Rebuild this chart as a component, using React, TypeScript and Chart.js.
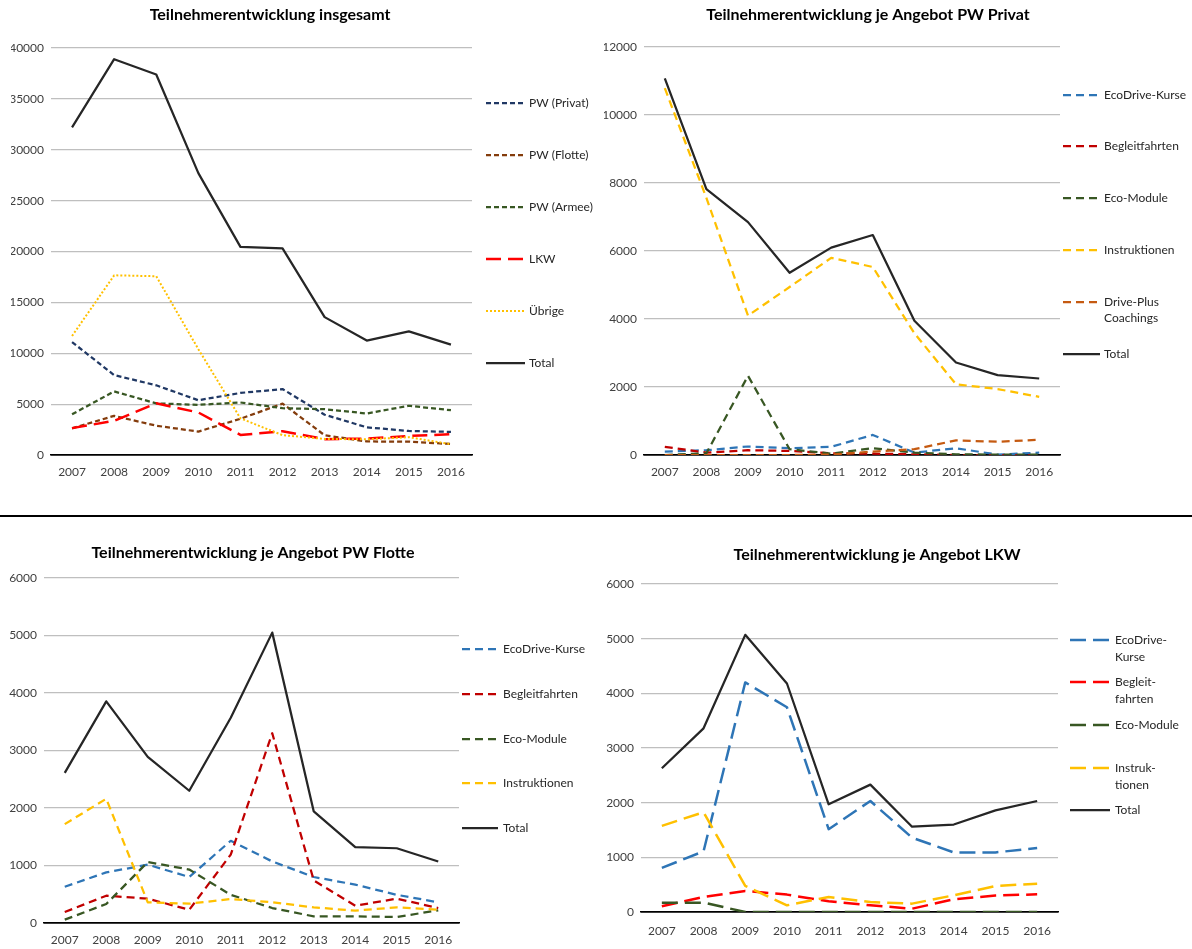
import React, { useEffect, useRef } from "react";
import { Chart, registerables } from "chart.js";

Chart.register(...registerables);

// ---------- DATA ----------
const years = ["2007", "2008", "2009", "2010", "2011", "2012", "2013", "2014", "2015", "2016"];

// Panel 1: Teilnehmerentwicklung insgesamt
const p1Privat = [11100, 7850, 6850, 5380, 6100, 6480, 3960, 2720, 2360, 2270];
const p1Flotte = [2620, 3850, 2880, 2300, 3560, 5050, 1940, 1330, 1310, 1080];
const p1Armee = [4000, 6250, 5070, 4930, 5160, 4600, 4500, 4080, 4840, 4400];
const p1Lkw = [2640, 3360, 5080, 4180, 1970, 2340, 1560, 1610, 1870, 2040];
const p1Uebrige = [11700, 17660, 17570, 10400, 3600, 1950, 1580, 1540, 1750, 1060];
const p1Total = [32200, 38900, 37400, 27700, 20450, 20300, 13550, 11250, 12150, 10850];

// Panel 2: PW Privat
const p2Eco = [100, 140, 250, 200, 240, 590, 70, 200, 10, 70];
const p2Begleit = [240, 70, 140, 120, 50, 40, 20, 0, 0, 0];
const p2Module = [0, 50, 2330, 170, 40, 200, 70, 20, 10, 10];
const p2Instr = [10790, 7560, 4100, 4940, 5800, 5530, 3580, 2080, 1940, 1710];
const p2Plus = [0, 0, 0, 0, 10, 100, 170, 430, 390, 450];
const p2Total = [11080, 7820, 6850, 5360, 6100, 6470, 3950, 2720, 2350, 2250];

// Panel 3: PW Flotte
const p3Eco = [630, 880, 1015, 800, 1430, 1070, 800, 667, 490, 360];
const p3Begleit = [190, 475, 423, 230, 1190, 3300, 740, 300, 423, 260];
const p3Module = [58, 330, 1060, 930, 490, 260, 115, 115, 105, 220];
const p3Instr = [1720, 2160, 360, 336, 417, 360, 272, 215, 272, 232];
const p3Total = [2610, 3855, 2890, 2300, 3570, 5050, 1940, 1320, 1300, 1070];

// Panel 4: LKW
const p4Eco = [806, 1110, 4200, 3745, 1515, 2030, 1360, 1090, 1090, 1170];
const p4Begleit = [104, 275, 385, 318, 195, 122, 61, 232, 300, 324];
const p4Module = [171, 171, 0, 0, 0, 0, 0, 0, 0, 0];
const p4Instr = [1576, 1826, 476, 122, 275, 183, 153, 305, 476, 519];
const p4Total = [2630, 3360, 5070, 4180, 1970, 2330, 1560, 1600, 1860, 2030];

const titles = [
  "Teilnehmerentwicklung insgesamt",
  "Teilnehmerentwicklung je Angebot PW Privat",
  "Teilnehmerentwicklung je Angebot PW Flotte",
  "Teilnehmerentwicklung je Angebot LKW",
];

// ---------- STYLE ----------
const W = 1192;
const H = 949;
const FONT = "Lato, 'Liberation Sans', sans-serif";
const TICK_COLOR = "#404040";
const TEXT_COLOR = "#262626";
const GRID = "#BFBFBF";

type Series = { label: string; legend: string[]; data: number[]; color: string; dash: number[]; width: number };
type Spec = {
  title: string;
  titleX: number;
  titleY: number;
  plot: { left: number; top: number; right: number; bottom: number };
  yMax: number;
  yStep: number;
  xPad: number;
  series: Series[];
  legendYs: number[];
  sampleX: [number, number];
  textX: number;
  lineGap: number;
};

const C = {
  navy: "#203864",
  brown: "#843C0C",
  green: "#385723",
  red: "#FF0000",
  darkRed: "#C00000",
  gold: "#FFC000",
  blue: "#2E75B6",
  orange: "#C55A11",
  black: "#262626",
};

const shortDash = [5, 3];
const midDash = [8, 5];
const longDash = [16, 7];

const specs: Spec[] = [
  {
    title: titles[0],
    titleX: 270,
    titleY: 15,
    plot: { left: 51, top: 48, right: 472, bottom: 455 },
    yMax: 40000,
    yStep: 5000,
    xPad: 10,
    series: [
      { label: "PW (Privat)", legend: ["PW (Privat)"], data: p1Privat, color: C.navy, dash: shortDash, width: 2.25 },
      { label: "PW (Flotte)", legend: ["PW (Flotte)"], data: p1Flotte, color: C.brown, dash: shortDash, width: 2.25 },
      { label: "PW (Armee)", legend: ["PW (Armee)"], data: p1Armee, color: C.green, dash: shortDash, width: 2.25 },
      { label: "LKW", legend: ["LKW"], data: p1Lkw, color: C.red, dash: [15, 7], width: 2.5 },
      { label: "Übrige", legend: ["Übrige"], data: p1Uebrige, color: C.gold, dash: [2, 2], width: 2 },
      { label: "Total", legend: ["Total"], data: p1Total, color: C.black, dash: [], width: 2.25 },
    ],
    legendYs: [103, 155, 207, 259, 311, 363],
    sampleX: [486, 525],
    textX: 529,
    lineGap: 16,
  },
  {
    title: titles[1],
    titleX: 868,
    titleY: 15,
    plot: { left: 644, top: 47, right: 1060, bottom: 455 },
    yMax: 12000,
    yStep: 2000,
    xPad: 10,
    series: [
      { label: "EcoDrive-Kurse", legend: ["EcoDrive-Kurse"], data: p2Eco, color: C.blue, dash: midDash, width: 2.25 },
      { label: "Begleitfahrten", legend: ["Begleitfahrten"], data: p2Begleit, color: C.darkRed, dash: midDash, width: 2.25 },
      { label: "Eco-Module", legend: ["Eco-Module"], data: p2Module, color: C.green, dash: midDash, width: 2.25 },
      { label: "Instruktionen", legend: ["Instruktionen"], data: p2Instr, color: C.gold, dash: midDash, width: 2.25 },
      { label: "Drive-Plus Coachings", legend: ["Drive-Plus", "Coachings"], data: p2Plus, color: C.orange, dash: midDash, width: 2.25 },
      { label: "Total", legend: ["Total"], data: p2Total, color: C.black, dash: [], width: 2.25 },
    ],
    legendYs: [95, 146, 198, 250, 302, 354],
    sampleX: [1063, 1100],
    textX: 1104,
    lineGap: 16,
  },
  {
    title: titles[2],
    titleX: 253,
    titleY: 553,
    plot: { left: 44, top: 578, right: 459, bottom: 923 },
    yMax: 6000,
    yStep: 1000,
    xPad: 10,
    series: [
      { label: "EcoDrive-Kurse", legend: ["EcoDrive-Kurse"], data: p3Eco, color: C.blue, dash: midDash, width: 2.25 },
      { label: "Begleitfahrten", legend: ["Begleitfahrten"], data: p3Begleit, color: C.darkRed, dash: midDash, width: 2.25 },
      { label: "Eco-Module", legend: ["Eco-Module"], data: p3Module, color: C.green, dash: midDash, width: 2.25 },
      { label: "Instruktionen", legend: ["Instruktionen"], data: p3Instr, color: C.gold, dash: midDash, width: 2.25 },
      { label: "Total", legend: ["Total"], data: p3Total, color: C.black, dash: [], width: 2.25 },
    ],
    legendYs: [649, 694, 739, 783, 828],
    sampleX: [462, 498],
    textX: 503,
    lineGap: 16,
  },
  {
    title: titles[3],
    titleX: 877,
    titleY: 555,
    plot: { left: 641, top: 584, right: 1058, bottom: 912 },
    yMax: 6000,
    yStep: 1000,
    xPad: 12,
    series: [
      { label: "EcoDrive-Kurse", legend: ["EcoDrive-", "Kurse"], data: p4Eco, color: C.blue, dash: longDash, width: 2.5 },
      { label: "Begleitfahrten", legend: ["Begleit-", "fahrten"], data: p4Begleit, color: C.red, dash: longDash, width: 2.5 },
      { label: "Eco-Module", legend: ["Eco-Module"], data: p4Module, color: C.green, dash: longDash, width: 2.5 },
      { label: "Instruktionen", legend: ["Instruk-", "tionen"], data: p4Instr, color: C.gold, dash: longDash, width: 2.5 },
      { label: "Total", legend: ["Total"], data: p4Total, color: C.black, dash: [], width: 2.25 },
    ],
    legendYs: [640, 682, 725, 768, 810],
    sampleX: [1070, 1110],
    textX: 1115,
    lineGap: 17,
  },
];

const YW = 40;
const XH = 30;

function Panel({ spec }: { spec: Spec }) {
  const ref = useRef<HTMLCanvasElement | null>(null);
  useEffect(() => {
    const canvas = ref.current;
    if (!canvas) return;
    const overlay = {
      id: "overlay" + spec.title.length,
      afterDraw(chart: any) {
        const ctx = chart.ctx as CanvasRenderingContext2D;
        ctx.save();
        ctx.fillStyle = "#000";
        ctx.font = `bold 16px ${FONT}`;
        ctx.textAlign = "center";
        ctx.textBaseline = "middle";
        ctx.fillText(spec.title, spec.titleX, spec.titleY);
        spec.series.forEach((s, i) => {
          const y = spec.legendYs[i];
          ctx.beginPath();
          ctx.setLineDash(s.dash);
          ctx.lineCap = "butt";
          ctx.strokeStyle = s.color;
          ctx.lineWidth = s.width;
          ctx.moveTo(spec.sampleX[0], y);
          ctx.lineTo(spec.sampleX[1], y);
          ctx.stroke();
          ctx.setLineDash([]);
          ctx.fillStyle = TEXT_COLOR;
          ctx.font = `12px ${FONT}`;
          ctx.textAlign = "left";
          ctx.textBaseline = "middle";
          s.legend.forEach((line, j) => {
            ctx.fillText(line, spec.textX, y + j * spec.lineGap);
          });
        });
        ctx.restore();
      },
    };
    const chart = new Chart(canvas, {
      type: "line",
      data: {
        labels: years,
        datasets: spec.series.map((s, i) => ({
          label: s.label,
          data: s.data,
          borderColor: s.color,
          backgroundColor: s.color,
          borderDash: s.dash,
          borderWidth: s.width,
          borderCapStyle: "butt",
          borderJoinStyle: "round",
          pointRadius: 0,
          fill: false,
          tension: 0,
          order: -i,
        })),
      },
      options: {
        responsive: false,
        animation: false,
        events: [],
        layout: {
          padding: {
            left: spec.plot.left - YW,
            top: spec.plot.top,
            right: W - spec.plot.right,
            bottom: H - spec.plot.bottom - XH,
          },
        },
        plugins: {
          legend: { display: false },
          title: { display: false },
          tooltip: { enabled: false },
        },
        scales: {
          x: {
            offset: true,
            grid: { display: false, drawTicks: false },
            border: { display: true, color: "#000", width: 1.5 },
            ticks: {
              padding: spec.xPad,
              color: TICK_COLOR,
              font: { family: FONT, size: 12 },
              maxRotation: 0,
              autoSkip: false,
            },
            afterFit: (s: any) => {
              s.height = XH;
            },
          },
          y: {
            min: 0,
            max: spec.yMax,
            ticks: {
              stepSize: spec.yStep,
              padding: 7,
              color: TICK_COLOR,
              font: { family: FONT, size: 12 },
              callback: (v: any) => String(v),
            },
            grid: {
              drawTicks: false,
              color: (c: any) => (c.tick && c.tick.value === 0 ? "#000" : GRID),
              lineWidth: (c: any) => (c.tick && c.tick.value === 0 ? 1.5 : 1.25),
            },
            border: { display: false },
            afterFit: (s: any) => {
              s.width = YW;
            },
          },
        },
      },
      plugins: [overlay],
    } as any);
    return () => chart.destroy();
  }, [spec]);
  return (
    <canvas
      ref={ref}
      width={W}
      height={H}
      style={{ position: "absolute", left: 0, top: 0, width: W, height: H }}
    />
  );
}

export default function App() {
  return (
    <div style={{ position: "absolute", left: 0, top: 0, width: W, height: H, background: "#fff", overflow: "hidden" }}>
      {specs.map((s, i) => (
        <Panel key={i} spec={s} />
      ))}
      <div style={{ position: "absolute", left: 0, top: 515, width: W, height: 2, background: "#000" }} />
    </div>
  );
}
